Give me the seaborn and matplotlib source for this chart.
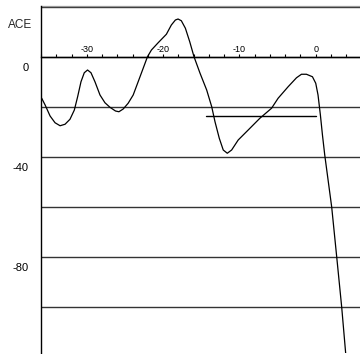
import matplotlib
matplotlib.use("Agg")
import matplotlib.pyplot as plt
import matplotlib.transforms as mtransforms
from matplotlib.ticker import MultipleLocator, FuncFormatter
import pandas as pd
import seaborn as sns

# curve
lag = [-35.91, -35.46, -34.81, -34.16, -33.50, -32.85, -32.20, -31.63, -31.20,
       -30.76, -30.33, -29.90, -29.45, -28.93, -28.27, -27.62, -26.97, -26.24,
       -25.79, -25.23, -24.58, -23.92, -23.27, -22.61, -22.05, -21.53, -20.65,
       -19.57, -18.92, -18.39, -18.04, -17.61, -17.08, -16.51, -15.95, -15.16,
       -14.29, -13.63, -13.20, -12.64, -12.12, -11.59, -11.02, -10.16, -8.85,
       -7.32, -5.79, -4.93, -3.62, -2.52, -1.87, -1.22, -0.43, 0.00, 0.30,
       0.61, 0.88, 1.18, 2.09, 2.75, 3.40, 3.92]
ace = [-16.5, -19.2, -23.6, -26.3, -27.5, -26.9, -24.9, -21.2, -15.9,
       -9.9, -6.3, -5.2, -6.3, -9.9, -15.2, -18.3, -20.1, -21.6,
       -21.9, -20.8, -18.5, -15.2, -9.9, -4.5, 0.1, 2.8, 5.7,
       9.1, 12.8, 14.8, 15.2, 14.5, 11.5, 6.1, 0.1, -6.5,
       -13.2, -19.9, -25.9, -32.5, -37.2, -38.5, -37.2, -33.2, -29.2,
       -24.5, -20.5, -16.5, -11.9, -8.3, -6.9, -6.9, -7.9, -10.5, -15.2,
       -23.2, -31.2, -39.2, -60.0, -80.0, -100.0, -118.4]

# horizontal reference segment
seg_x = [-14.4, 0.0]
seg_y = [-23.5, -23.5]

x_labels = [-30, -20, -10, 0]
y_labels = [0, -40, -80]

sns.set_style("white")
plt.rcParams["font.family"] = ["Liberation Sans", "DejaVu Sans"]
plt.rcParams["axes.unicode_minus"] = False

fig = plt.figure(figsize=(3.6, 3.54), dpi=100)
ax = fig.add_axes([41 / 360, 1 / 354, 1 - 41 / 360, 347 / 354])

df = pd.DataFrame({"lag": lag, "ace": ace})
sns.lineplot(data=df, x="lag", y="ace", sort=False, color="black",
             linewidth=0.9, ax=ax)
sns.lineplot(x=seg_x, y=seg_y, color="black", linewidth=1.0, ax=ax)

ax.set_xlim(-36, 5.8)
ax.set_ylim(-118.4, 20.4)
ax.set_xlabel("")
ax.set_ylabel("")

# x axis sits on y=0 with labels above it
ax.spines["bottom"].set_visible(False)
ax.spines["right"].set_visible(False)
ax.spines["top"].set_position(("data", 0))
ax.spines["top"].set_color("black")
ax.spines["top"].set_linewidth(1.0)
ax.spines["left"].set_color("black")
ax.spines["left"].set_linewidth(1.0)
ax.xaxis.tick_top()
ax.set_xticks(x_labels)
ax.xaxis.set_minor_locator(MultipleLocator(2))
ax.tick_params(axis="x", which="both", direction="out", length=2, width=0.8,
               pad=0, labelsize=6.5, colors="black")
ax.axhline(20.4, color="#999999", linewidth=0.9, clip_on=False)

ax.yaxis.set_major_locator(MultipleLocator(20))
ax.yaxis.set_major_formatter(FuncFormatter(
    lambda v, p: f"{int(round(v))}" if int(round(v)) in y_labels else ""))
ax.tick_params(axis="y", length=0, pad=9, labelsize=8, colors="black")
ax.grid(axis="y", color="#333333", linewidth=1.0)
ax.grid(axis="x", visible=False)

shift = mtransforms.ScaledTranslation(0, -0.1, fig.dpi_scale_trans)
for lbl in ax.get_yticklabels():
    lbl.set_transform(lbl.get_transform() + shift)

ax.text(32 / 360, 1 - 25 / 354, "ACE", transform=fig.transFigure,
        ha="right", va="center", fontsize=8.5)

fig.savefig("out.png", dpi=100)
